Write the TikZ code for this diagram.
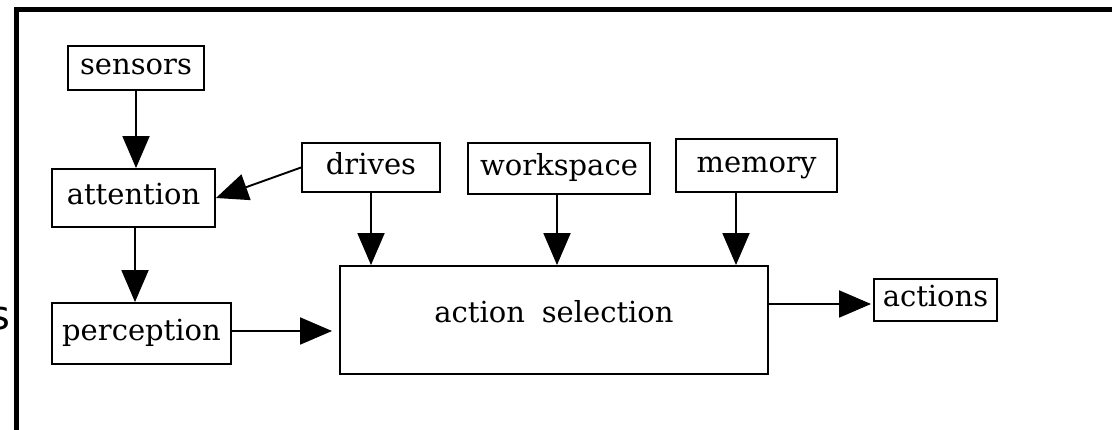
\documentclass[tikz,border=0pt]{standalone}
\usepackage{fontspec}
\setmainfont{DejaVu Serif}
\newfontfamily\edgefont{DejaVu Sans}
\usetikzlibrary{arrows.meta}
\begin{document}
\begin{tikzpicture}[x=1pt,y=-1pt,
  blk/.style={draw, line width=1.9pt, inner sep=0pt,
    font=\fontsize{29pt}{30pt}\selectfont, text height=18pt, text depth=4pt},
  flow/.style={line width=1.9pt, -{Triangle[width=27pt,length=32pt]}},
  frameline/.style={line width=5pt}]
  \useasboundingbox (0,0) rectangle (1112,430);

  % page frame (top and left edges)
  \draw[frameline] (16.5,440) -- (16.5,10) -- (1125,10);

  % clipped letter at the left margin
  \node[anchor=base east, inner sep=0pt, font=\edgefont\fontsize{40pt}{40pt}\selectfont] (cut) at (11,330) {s};

  % boxes
  \node[blk, minimum width=136pt, minimum height=44pt] (sensors) at (136,68) {sensors};
  \node[blk, minimum width=163pt, minimum height=58pt] (attention) at (133.5,198) {attention};
  \node[blk, minimum width=179pt, minimum height=61pt] (perception) at (141.5,333.5) {perception};
  \node[blk, minimum width=138pt, minimum height=49pt] (drives) at (371,167.5) {drives};
  \node[blk, minimum width=182pt, minimum height=51pt] (workspace) at (559,168.5) {workspace};
  \node[blk, minimum width=161pt, minimum height=53pt] (memory) at (756.5,165.5) {memory};
  \node[blk, minimum width=428pt, minimum height=108pt, text height=10pt, text depth=4pt]
    (action) at (554,320) {action\hspace{0.58em}selection};
  \node[blk, minimum width=123pt, minimum height=42pt] (actions) at (935.5,300) {actions};

  % connectors
  \draw[flow] (sensors.south) -- (sensors.south |- attention.north);
  \draw[flow] ([xshift=1.5pt]attention.south) -- ([xshift=1.5pt]attention.south |- perception.north);
  \draw[flow] (drives.west) -- (attention.east);
  \draw[flow, shorten >=7pt] ([yshift=2.5pt]perception.east) -- ([yshift=2.5pt]perception.east -| action.west);
  \draw[flow] (drives.south) -- (drives.south |- action.north);
  \draw[flow] ([xshift=-2pt]workspace.south) -- ([xshift=-2pt]workspace.south |- action.north);
  \draw[flow] ([xshift=-20.5pt]memory.south) -- ([xshift=-20.5pt]memory.south |- action.north);
  \draw[flow, shorten >=2pt] ([yshift=-4pt]actions.west -| action.east) -- ([yshift=-4pt]actions.west);
\end{tikzpicture}
\end{document}
